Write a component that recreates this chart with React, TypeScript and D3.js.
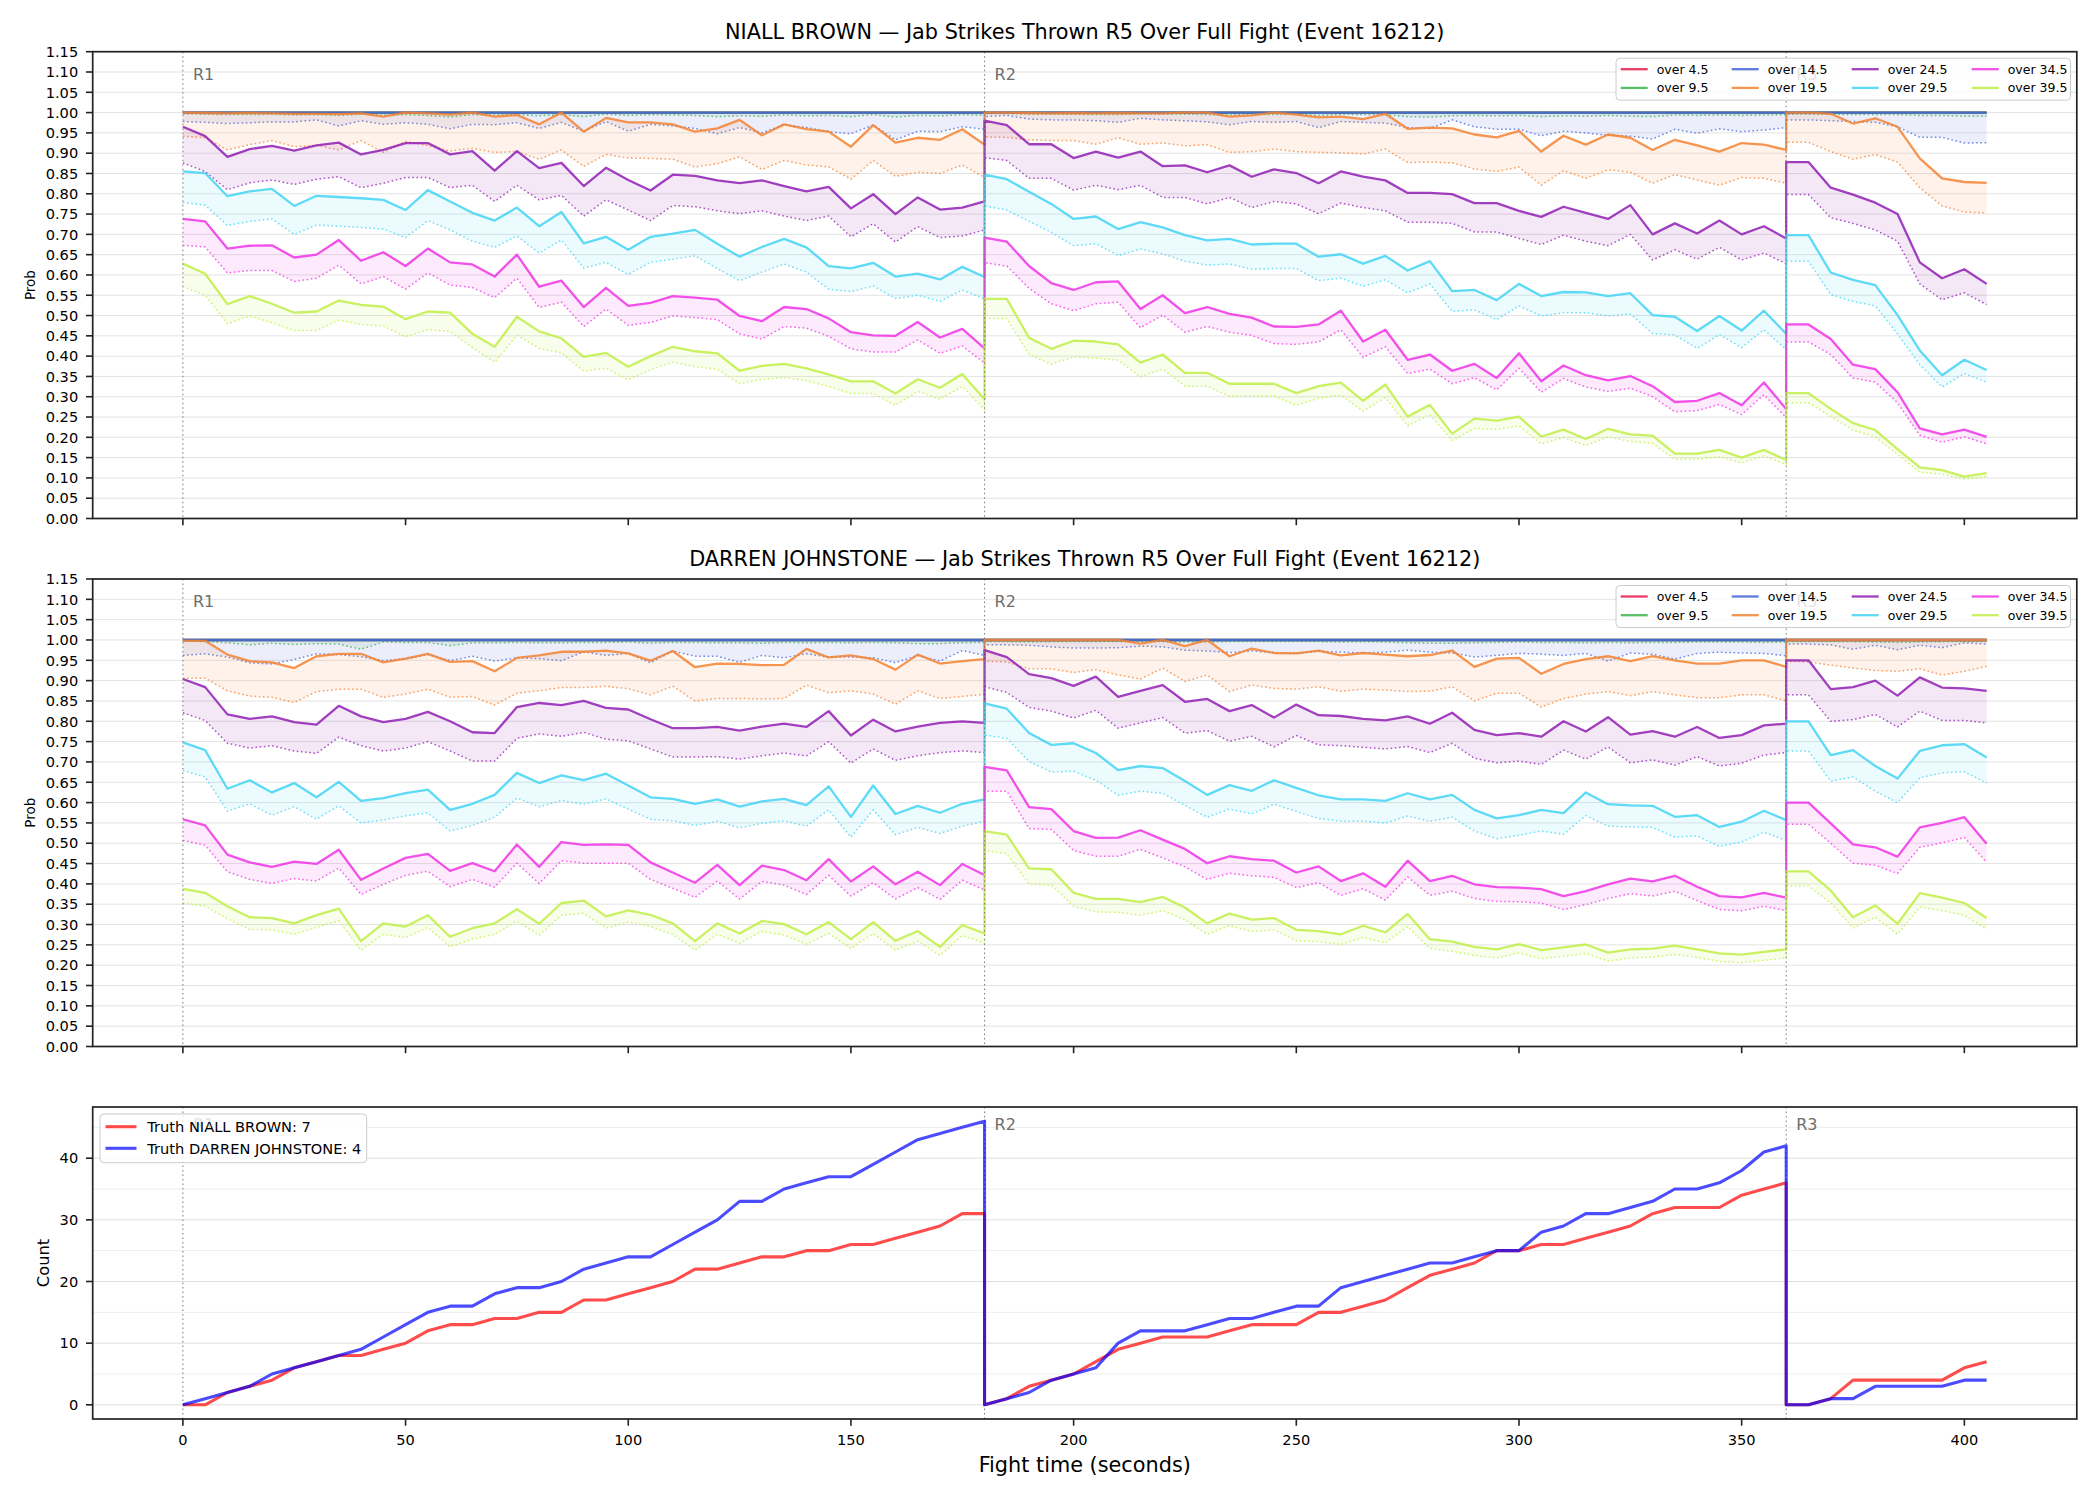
import React, { useEffect, useRef } from "react";
import * as d3 from "d3";

// ---------- data ----------

const ROUNDS = [
  { label: "R1", start: 0, end: 180 },
  { label: "R2", start: 180, end: 360 },
  { label: "R3", start: 360, end: 405 },
];
const STEP = 5;
// every round is sampled each 5 s, the boundary second appears in both rounds
const TIMES = ROUNDS.flatMap((r) => d3.range(r.start, r.end + 1, STEP));

const LINE_NAMES = ["over 4.5", "over 9.5", "over 14.5", "over 19.5", "over 24.5", "over 29.5", "over 34.5", "over 39.5"];
const LINE_COLORS = ["#e6194b", "#3cb44b", "#4363d8", "#f58231", "#911eb4", "#42d4f4", "#f032e6", "#bfef45"];

const X_TICKS = [0, 50, 100, 150, 200, 250, 300, 350, 400];
const COUNT_TICKS = [0, 10, 20, 30, 40];
const COUNT_MINOR = [5, 15, 25, 35, 45];

// lines that sit flat on 1.00 for the whole fight
const AT_ONE = [
  1, 1, 1, 1, 1, 1, 1, 1, 1, 1, 1, 1, 1, 1, 1, 1, 1, 1, 1, 1, 1, 1, 1, 1, 1, 1, 1, 1,
  1, 1, 1, 1, 1, 1, 1, 1, 1, 1, 1, 1, 1, 1, 1, 1, 1, 1, 1, 1, 1, 1, 1, 1, 1, 1, 1, 1,
  1, 1, 1, 1, 1, 1, 1, 1, 1, 1, 1, 1, 1, 1, 1, 1, 1, 1, 1, 1, 1, 1, 1, 1, 1, 1, 1, 1,
];

// NIALL BROWN — solid lines
const NB_195 = [
  1.000, 0.999, 0.998, 0.999, 0.998, 0.997, 0.997, 0.996, 0.998, 0.990, 1.000, 0.998, 0.995, 1.000, 0.990, 0.994, 0.971, 1.000, 0.953, 0.987, 0.976, 0.976, 0.971, 0.953, 0.961, 0.982, 0.944, 0.971, 0.959, 0.953, 0.916, 0.969, 0.926, 0.938, 0.933, 0.959, 0.921,
  1.000, 1.000, 0.999, 0.998, 0.999, 0.998, 0.999, 0.998, 0.998, 1.000, 1.000, 0.990, 0.993, 1.000, 0.995, 0.988, 0.990, 0.984, 0.997, 0.960, 0.963, 0.961, 0.946, 0.939, 0.955, 0.904, 0.943, 0.921, 0.946, 0.938, 0.908, 0.933, 0.919, 0.904, 0.925, 0.921, 0.908,
  1.000, 1.000, 0.997, 0.973, 0.986, 0.965, 0.887, 0.838, 0.829, 0.827,
];
const NB_245 = [
  0.965, 0.942, 0.891, 0.910, 0.918, 0.906, 0.919, 0.926, 0.897, 0.908, 0.925, 0.925, 0.897, 0.905, 0.857, 0.905, 0.863, 0.876, 0.819, 0.864, 0.834, 0.808, 0.847, 0.844, 0.833, 0.826, 0.833, 0.819, 0.806, 0.817, 0.764, 0.799, 0.750, 0.791, 0.761, 0.766, 0.781,
  0.980, 0.969, 0.922, 0.922, 0.888, 0.904, 0.889, 0.904, 0.868, 0.870, 0.853, 0.870, 0.842, 0.860, 0.851, 0.826, 0.855, 0.842, 0.833, 0.802, 0.802, 0.799, 0.777, 0.777, 0.758, 0.743, 0.768, 0.753, 0.738, 0.772, 0.700, 0.727, 0.702, 0.734, 0.700, 0.720, 0.690,
  0.878, 0.878, 0.815, 0.798, 0.778, 0.750, 0.631, 0.592, 0.614, 0.578,
];
const NB_295 = [
  0.855, 0.851, 0.794, 0.806, 0.812, 0.770, 0.795, 0.792, 0.789, 0.785, 0.760, 0.809, 0.781, 0.753, 0.734, 0.766, 0.720, 0.755, 0.678, 0.694, 0.662, 0.694, 0.702, 0.711, 0.677, 0.645, 0.669, 0.689, 0.668, 0.622, 0.616, 0.630, 0.596, 0.603, 0.589, 0.620, 0.595,
  0.847, 0.836, 0.805, 0.775, 0.738, 0.744, 0.713, 0.730, 0.717, 0.698, 0.685, 0.689, 0.675, 0.677, 0.677, 0.645, 0.651, 0.628, 0.647, 0.611, 0.634, 0.560, 0.563, 0.538, 0.578, 0.548, 0.558, 0.557, 0.548, 0.555, 0.501, 0.497, 0.462, 0.499, 0.463, 0.512, 0.455,
  0.698, 0.698, 0.606, 0.588, 0.575, 0.501, 0.414, 0.353, 0.391, 0.366,
];
const NB_345 = [
  0.738, 0.732, 0.665, 0.672, 0.673, 0.643, 0.650, 0.686, 0.635, 0.656, 0.622, 0.665, 0.631, 0.626, 0.596, 0.650, 0.571, 0.586, 0.521, 0.568, 0.524, 0.531, 0.548, 0.544, 0.539, 0.499, 0.486, 0.521, 0.516, 0.493, 0.459, 0.451, 0.450, 0.484, 0.446, 0.467, 0.419,
  0.692, 0.682, 0.622, 0.580, 0.563, 0.582, 0.584, 0.516, 0.550, 0.506, 0.521, 0.504, 0.495, 0.473, 0.472, 0.478, 0.512, 0.436, 0.465, 0.391, 0.404, 0.364, 0.381, 0.346, 0.407, 0.338, 0.377, 0.353, 0.340, 0.351, 0.326, 0.287, 0.290, 0.309, 0.279, 0.335, 0.270,
  0.478, 0.478, 0.442, 0.379, 0.368, 0.311, 0.222, 0.207, 0.219, 0.201,
];
const NB_395 = [
  0.628, 0.603, 0.528, 0.548, 0.529, 0.507, 0.510, 0.537, 0.526, 0.522, 0.491, 0.510, 0.507, 0.455, 0.423, 0.497, 0.461, 0.444, 0.398, 0.408, 0.374, 0.400, 0.423, 0.412, 0.407, 0.364, 0.376, 0.381, 0.370, 0.355, 0.338, 0.338, 0.308, 0.343, 0.322, 0.356, 0.294,
  0.541, 0.541, 0.445, 0.418, 0.438, 0.436, 0.429, 0.384, 0.404, 0.359, 0.359, 0.332, 0.332, 0.332, 0.309, 0.326, 0.335, 0.290, 0.330, 0.251, 0.280, 0.209, 0.246, 0.241, 0.251, 0.202, 0.219, 0.196, 0.221, 0.207, 0.204, 0.160, 0.160, 0.169, 0.150, 0.169, 0.144,
  0.309, 0.309, 0.270, 0.235, 0.218, 0.171, 0.126, 0.119, 0.103, 0.112,
];

// NIALL BROWN — dotted lines
const NB_95_D = [
  0.997, 0.996, 0.995, 0.995, 0.996, 0.994, 0.995, 0.993, 0.996, 0.994, 0.995, 0.993, 0.989, 0.995, 0.994, 0.995, 0.992, 0.995, 0.990, 0.996, 0.993, 0.995, 0.994, 0.993, 0.990, 0.992, 0.991, 0.994, 0.992, 0.993, 0.990, 0.995, 0.989, 0.993, 0.992, 0.995, 0.993,
  0.997, 0.998, 0.996, 0.996, 0.996, 0.995, 0.995, 0.997, 0.996, 0.996, 0.995, 0.994, 0.996, 0.995, 0.996, 0.993, 0.996, 0.995, 0.995, 0.990, 0.989, 0.992, 0.993, 0.992, 0.993, 0.990, 0.992, 0.991, 0.993, 0.991, 0.990, 0.994, 0.993, 0.994, 0.993, 0.994, 0.995,
  0.996, 0.996, 0.996, 0.995, 0.995, 0.995, 0.993, 0.993, 0.991, 0.991,
];
const NB_145_D = [
  0.978, 0.976, 0.973, 0.975, 0.977, 0.977, 0.982, 0.967, 0.980, 0.971, 0.975, 0.971, 0.960, 0.971, 0.970, 0.975, 0.961, 0.976, 0.954, 0.978, 0.954, 0.971, 0.967, 0.961, 0.948, 0.963, 0.950, 0.970, 0.963, 0.953, 0.948, 0.969, 0.933, 0.954, 0.953, 0.965, 0.959,
  0.990, 0.993, 0.984, 0.982, 0.982, 0.980, 0.976, 0.986, 0.982, 0.980, 0.977, 0.970, 0.978, 0.976, 0.978, 0.963, 0.978, 0.976, 0.974, 0.963, 0.961, 0.982, 0.965, 0.959, 0.959, 0.943, 0.954, 0.950, 0.944, 0.942, 0.935, 0.959, 0.949, 0.960, 0.953, 0.957, 0.963,
  0.982, 0.982, 0.980, 0.978, 0.976, 0.965, 0.939, 0.939, 0.925, 0.926,
];
const NB_195_D = [
  0.942, 0.938, 0.908, 0.921, 0.931, 0.916, 0.919, 0.908, 0.931, 0.902, 0.929, 0.919, 0.905, 0.912, 0.902, 0.904, 0.885, 0.908, 0.867, 0.897, 0.888, 0.887, 0.885, 0.866, 0.874, 0.891, 0.860, 0.882, 0.871, 0.866, 0.836, 0.882, 0.843, 0.853, 0.850, 0.871, 0.840,
  0.940, 0.939, 0.933, 0.931, 0.931, 0.922, 0.938, 0.922, 0.925, 0.918, 0.921, 0.902, 0.904, 0.910, 0.904, 0.902, 0.901, 0.898, 0.910, 0.877, 0.878, 0.876, 0.861, 0.855, 0.866, 0.821, 0.857, 0.838, 0.859, 0.853, 0.826, 0.847, 0.834, 0.821, 0.840, 0.838, 0.826,
  0.927, 0.927, 0.904, 0.885, 0.897, 0.878, 0.815, 0.770, 0.755, 0.753,
];
const NB_245_D = [
  0.876, 0.855, 0.810, 0.827, 0.834, 0.823, 0.836, 0.842, 0.815, 0.826, 0.840, 0.840, 0.815, 0.821, 0.781, 0.821, 0.785, 0.796, 0.745, 0.785, 0.760, 0.734, 0.771, 0.768, 0.758, 0.751, 0.758, 0.745, 0.734, 0.745, 0.694, 0.726, 0.681, 0.719, 0.692, 0.696, 0.711,
  0.889, 0.882, 0.838, 0.838, 0.809, 0.821, 0.810, 0.821, 0.791, 0.791, 0.775, 0.791, 0.766, 0.781, 0.775, 0.751, 0.777, 0.766, 0.758, 0.730, 0.730, 0.727, 0.706, 0.706, 0.690, 0.675, 0.698, 0.683, 0.672, 0.700, 0.637, 0.662, 0.639, 0.668, 0.637, 0.654, 0.628,
  0.798, 0.798, 0.741, 0.727, 0.711, 0.683, 0.578, 0.539, 0.556, 0.527,
];
const NB_295_D = [
  0.778, 0.772, 0.722, 0.732, 0.738, 0.700, 0.723, 0.720, 0.717, 0.713, 0.692, 0.734, 0.711, 0.683, 0.668, 0.696, 0.654, 0.686, 0.617, 0.631, 0.601, 0.631, 0.639, 0.647, 0.616, 0.586, 0.607, 0.627, 0.607, 0.565, 0.559, 0.573, 0.542, 0.550, 0.535, 0.563, 0.541,
  0.770, 0.760, 0.732, 0.705, 0.672, 0.677, 0.648, 0.664, 0.652, 0.634, 0.624, 0.627, 0.614, 0.616, 0.616, 0.586, 0.592, 0.572, 0.588, 0.556, 0.578, 0.510, 0.514, 0.490, 0.524, 0.499, 0.507, 0.507, 0.499, 0.504, 0.456, 0.452, 0.419, 0.453, 0.421, 0.465, 0.417,
  0.634, 0.634, 0.552, 0.535, 0.524, 0.455, 0.379, 0.324, 0.357, 0.336,
];
const NB_345_D = [
  0.673, 0.669, 0.605, 0.611, 0.611, 0.584, 0.592, 0.624, 0.578, 0.596, 0.565, 0.605, 0.575, 0.569, 0.544, 0.592, 0.520, 0.533, 0.473, 0.516, 0.476, 0.483, 0.499, 0.495, 0.490, 0.455, 0.442, 0.473, 0.469, 0.449, 0.418, 0.410, 0.410, 0.440, 0.407, 0.425, 0.383,
  0.630, 0.622, 0.567, 0.529, 0.512, 0.529, 0.533, 0.470, 0.501, 0.459, 0.473, 0.459, 0.451, 0.431, 0.429, 0.435, 0.465, 0.397, 0.423, 0.357, 0.368, 0.332, 0.347, 0.317, 0.370, 0.311, 0.345, 0.324, 0.313, 0.321, 0.300, 0.263, 0.266, 0.281, 0.256, 0.305, 0.249,
  0.435, 0.435, 0.404, 0.346, 0.336, 0.285, 0.205, 0.188, 0.201, 0.184,
];
const NB_395_D = [
  0.572, 0.550, 0.480, 0.499, 0.482, 0.463, 0.463, 0.489, 0.478, 0.474, 0.448, 0.465, 0.461, 0.421, 0.385, 0.452, 0.419, 0.408, 0.363, 0.370, 0.342, 0.366, 0.385, 0.374, 0.368, 0.332, 0.343, 0.347, 0.340, 0.325, 0.308, 0.308, 0.279, 0.313, 0.294, 0.325, 0.268,
  0.493, 0.493, 0.404, 0.380, 0.398, 0.395, 0.390, 0.349, 0.368, 0.326, 0.326, 0.301, 0.301, 0.301, 0.279, 0.296, 0.304, 0.264, 0.298, 0.228, 0.256, 0.192, 0.222, 0.219, 0.228, 0.184, 0.199, 0.180, 0.201, 0.190, 0.185, 0.146, 0.146, 0.152, 0.137, 0.154, 0.133,
  0.285, 0.285, 0.252, 0.218, 0.201, 0.158, 0.114, 0.109, 0.097, 0.103,
];

// DARREN JOHNSTONE — solid lines
const DJ_195 = [
  0.998, 0.998, 0.964, 0.948, 0.945, 0.931, 0.960, 0.966, 0.966, 0.945, 0.954, 0.966, 0.946, 0.948, 0.923, 0.956, 0.962, 0.971, 0.971, 0.974, 0.967, 0.949, 0.973, 0.933, 0.942, 0.941, 0.938, 0.939, 0.978, 0.957, 0.962, 0.953, 0.927, 0.964, 0.942, 0.948, 0.953,
  1.000, 1.000, 1.000, 1.000, 1.000, 1.000, 1.000, 0.991, 1.000, 0.985, 1.000, 0.960, 0.979, 0.968, 0.967, 0.974, 0.962, 0.968, 0.964, 0.960, 0.963, 0.974, 0.934, 0.954, 0.956, 0.917, 0.941, 0.953, 0.960, 0.948, 0.960, 0.950, 0.942, 0.942, 0.950, 0.950, 0.934,
  1.000, 1.000, 1.000, 1.000, 1.000, 1.000, 1.000, 1.000, 1.000, 1.000,
];
const DJ_245 = [
  0.904, 0.884, 0.817, 0.806, 0.812, 0.798, 0.792, 0.838, 0.812, 0.798, 0.806, 0.823, 0.800, 0.773, 0.771, 0.835, 0.845, 0.840, 0.850, 0.833, 0.829, 0.805, 0.783, 0.783, 0.786, 0.777, 0.787, 0.794, 0.786, 0.825, 0.765, 0.804, 0.775, 0.787, 0.796, 0.800, 0.796,
  0.975, 0.958, 0.916, 0.906, 0.887, 0.910, 0.860, 0.875, 0.889, 0.848, 0.855, 0.825, 0.840, 0.809, 0.841, 0.815, 0.813, 0.806, 0.802, 0.812, 0.794, 0.821, 0.779, 0.766, 0.771, 0.762, 0.800, 0.775, 0.810, 0.767, 0.776, 0.762, 0.786, 0.759, 0.766, 0.790, 0.794,
  0.950, 0.950, 0.879, 0.884, 0.900, 0.863, 0.908, 0.883, 0.881, 0.875,
];
const DJ_295 = [
  0.748, 0.729, 0.634, 0.655, 0.625, 0.648, 0.613, 0.651, 0.604, 0.611, 0.623, 0.632, 0.582, 0.597, 0.619, 0.673, 0.648, 0.667, 0.655, 0.671, 0.642, 0.613, 0.609, 0.597, 0.608, 0.590, 0.603, 0.609, 0.594, 0.640, 0.565, 0.642, 0.572, 0.592, 0.575, 0.597, 0.608,
  0.844, 0.831, 0.771, 0.742, 0.746, 0.722, 0.680, 0.690, 0.685, 0.653, 0.619, 0.643, 0.629, 0.655, 0.636, 0.618, 0.608, 0.608, 0.604, 0.623, 0.608, 0.619, 0.582, 0.561, 0.569, 0.582, 0.574, 0.625, 0.596, 0.593, 0.592, 0.565, 0.569, 0.540, 0.553, 0.580, 0.557,
  0.800, 0.800, 0.717, 0.729, 0.690, 0.659, 0.727, 0.741, 0.744, 0.711,
];
const DJ_345 = [
  0.559, 0.544, 0.472, 0.453, 0.442, 0.455, 0.449, 0.484, 0.410, 0.438, 0.464, 0.474, 0.432, 0.451, 0.431, 0.497, 0.442, 0.503, 0.496, 0.497, 0.496, 0.453, 0.428, 0.403, 0.447, 0.397, 0.445, 0.434, 0.409, 0.461, 0.406, 0.443, 0.399, 0.430, 0.397, 0.449, 0.422,
  0.688, 0.679, 0.589, 0.584, 0.530, 0.513, 0.514, 0.532, 0.509, 0.486, 0.451, 0.468, 0.461, 0.457, 0.428, 0.443, 0.407, 0.426, 0.393, 0.457, 0.407, 0.420, 0.399, 0.392, 0.391, 0.387, 0.370, 0.382, 0.399, 0.413, 0.406, 0.420, 0.393, 0.370, 0.367, 0.378, 0.366,
  0.600, 0.600, 0.549, 0.497, 0.490, 0.467, 0.539, 0.550, 0.564, 0.499,
];
const DJ_395 = [
  0.388, 0.378, 0.345, 0.318, 0.316, 0.303, 0.323, 0.339, 0.259, 0.303, 0.295, 0.323, 0.270, 0.291, 0.303, 0.338, 0.302, 0.353, 0.359, 0.320, 0.335, 0.324, 0.303, 0.259, 0.303, 0.278, 0.309, 0.301, 0.276, 0.306, 0.264, 0.306, 0.260, 0.284, 0.245, 0.299, 0.278,
  0.530, 0.521, 0.438, 0.436, 0.378, 0.363, 0.363, 0.355, 0.368, 0.342, 0.303, 0.327, 0.312, 0.316, 0.287, 0.284, 0.276, 0.297, 0.281, 0.326, 0.264, 0.258, 0.245, 0.239, 0.252, 0.237, 0.244, 0.251, 0.231, 0.239, 0.241, 0.248, 0.239, 0.229, 0.226, 0.233, 0.239,
  0.431, 0.431, 0.384, 0.318, 0.347, 0.302, 0.377, 0.366, 0.353, 0.316,
];

// DARREN JOHNSTONE — dotted lines
const DJ_95_D = [
  0.998, 0.996, 0.993, 0.988, 0.992, 0.989, 0.991, 0.990, 0.977, 0.995, 0.994, 0.994, 0.986, 0.993, 0.993, 0.994, 0.993, 0.993, 0.994, 0.994, 0.995, 0.992, 0.994, 0.994, 0.993, 0.993, 0.992, 0.994, 0.993, 0.994, 0.993, 0.994, 0.993, 0.991, 0.991, 0.993, 0.994,
  0.996, 0.996, 0.995, 0.996, 0.996, 0.996, 0.996, 0.996, 0.996, 0.995, 0.995, 0.996, 0.996, 0.996, 0.996, 0.996, 0.995, 0.996, 0.995, 0.993, 0.992, 0.992, 0.993, 0.994, 0.995, 0.994, 0.994, 0.993, 0.994, 0.993, 0.994, 0.994, 0.995, 0.995, 0.995, 0.994, 0.995,
  0.996, 0.996, 0.996, 0.996, 0.995, 0.994, 0.995, 0.996, 0.996, 0.996,
];
const DJ_145_D = [
  0.962, 0.966, 0.958, 0.944, 0.941, 0.952, 0.966, 0.964, 0.959, 0.949, 0.954, 0.964, 0.949, 0.960, 0.948, 0.956, 0.954, 0.949, 0.971, 0.962, 0.967, 0.944, 0.973, 0.960, 0.960, 0.945, 0.962, 0.956, 0.966, 0.958, 0.958, 0.956, 0.944, 0.962, 0.948, 0.974, 0.962,
  0.988, 0.988, 0.987, 0.983, 0.980, 0.980, 0.981, 0.985, 0.983, 0.975, 0.973, 0.969, 0.973, 0.969, 0.967, 0.972, 0.970, 0.968, 0.970, 0.975, 0.970, 0.968, 0.958, 0.962, 0.967, 0.965, 0.962, 0.967, 0.948, 0.968, 0.965, 0.953, 0.967, 0.970, 0.968, 0.967, 0.961,
  0.990, 0.990, 0.988, 0.977, 0.987, 0.976, 0.987, 0.981, 0.993, 0.990,
];
const DJ_195_D = [
  0.906, 0.906, 0.875, 0.862, 0.859, 0.846, 0.873, 0.879, 0.879, 0.859, 0.867, 0.879, 0.859, 0.861, 0.840, 0.869, 0.875, 0.883, 0.883, 0.886, 0.880, 0.865, 0.886, 0.850, 0.856, 0.856, 0.855, 0.856, 0.889, 0.870, 0.875, 0.867, 0.842, 0.875, 0.856, 0.861, 0.866,
  0.948, 0.946, 0.929, 0.929, 0.920, 0.927, 0.914, 0.904, 0.931, 0.898, 0.914, 0.873, 0.889, 0.881, 0.879, 0.885, 0.874, 0.879, 0.877, 0.873, 0.874, 0.885, 0.850, 0.869, 0.869, 0.835, 0.856, 0.867, 0.873, 0.863, 0.873, 0.865, 0.858, 0.858, 0.865, 0.865, 0.850,
  0.948, 0.946, 0.938, 0.931, 0.925, 0.923, 0.929, 0.914, 0.923, 0.935,
];
const DJ_245_D = [
  0.821, 0.802, 0.746, 0.734, 0.740, 0.727, 0.721, 0.761, 0.740, 0.727, 0.734, 0.750, 0.727, 0.702, 0.702, 0.758, 0.769, 0.763, 0.773, 0.756, 0.752, 0.732, 0.712, 0.712, 0.713, 0.707, 0.715, 0.722, 0.715, 0.750, 0.697, 0.732, 0.704, 0.715, 0.723, 0.727, 0.723,
  0.885, 0.871, 0.834, 0.825, 0.808, 0.827, 0.783, 0.796, 0.809, 0.771, 0.777, 0.751, 0.763, 0.737, 0.765, 0.742, 0.740, 0.736, 0.732, 0.738, 0.723, 0.746, 0.709, 0.698, 0.702, 0.694, 0.729, 0.707, 0.737, 0.698, 0.705, 0.692, 0.713, 0.690, 0.697, 0.717, 0.723,
  0.865, 0.865, 0.800, 0.804, 0.817, 0.786, 0.825, 0.802, 0.802, 0.796,
];
const DJ_295_D = [
  0.679, 0.663, 0.579, 0.597, 0.569, 0.590, 0.559, 0.592, 0.550, 0.557, 0.567, 0.575, 0.530, 0.544, 0.564, 0.611, 0.590, 0.605, 0.596, 0.609, 0.584, 0.559, 0.555, 0.544, 0.554, 0.538, 0.549, 0.555, 0.542, 0.582, 0.515, 0.582, 0.521, 0.539, 0.524, 0.542, 0.554,
  0.766, 0.758, 0.701, 0.675, 0.677, 0.655, 0.618, 0.628, 0.623, 0.593, 0.564, 0.584, 0.572, 0.596, 0.578, 0.561, 0.554, 0.554, 0.550, 0.567, 0.554, 0.564, 0.530, 0.511, 0.520, 0.530, 0.522, 0.568, 0.542, 0.540, 0.539, 0.515, 0.518, 0.492, 0.503, 0.527, 0.507,
  0.727, 0.727, 0.653, 0.663, 0.628, 0.600, 0.661, 0.673, 0.676, 0.648,
];
const DJ_345_D = [
  0.507, 0.495, 0.430, 0.411, 0.401, 0.413, 0.407, 0.439, 0.374, 0.399, 0.421, 0.431, 0.393, 0.411, 0.392, 0.451, 0.401, 0.457, 0.451, 0.451, 0.451, 0.411, 0.389, 0.367, 0.407, 0.363, 0.406, 0.397, 0.374, 0.421, 0.370, 0.403, 0.363, 0.391, 0.362, 0.409, 0.385,
  0.628, 0.628, 0.536, 0.534, 0.482, 0.468, 0.468, 0.485, 0.464, 0.442, 0.411, 0.426, 0.420, 0.416, 0.391, 0.403, 0.372, 0.388, 0.360, 0.417, 0.372, 0.382, 0.364, 0.357, 0.356, 0.353, 0.337, 0.349, 0.364, 0.376, 0.370, 0.382, 0.359, 0.337, 0.334, 0.345, 0.334,
  0.547, 0.547, 0.500, 0.451, 0.446, 0.426, 0.490, 0.501, 0.514, 0.453,
];
const DJ_395_D = [
  0.353, 0.345, 0.314, 0.288, 0.287, 0.276, 0.293, 0.309, 0.237, 0.276, 0.268, 0.293, 0.245, 0.264, 0.276, 0.308, 0.274, 0.323, 0.328, 0.291, 0.306, 0.295, 0.276, 0.237, 0.276, 0.254, 0.283, 0.274, 0.252, 0.278, 0.241, 0.278, 0.237, 0.259, 0.224, 0.273, 0.254,
  0.482, 0.474, 0.399, 0.397, 0.345, 0.331, 0.330, 0.323, 0.334, 0.312, 0.276, 0.297, 0.283, 0.287, 0.260, 0.258, 0.251, 0.268, 0.255, 0.295, 0.241, 0.234, 0.224, 0.218, 0.230, 0.216, 0.222, 0.229, 0.210, 0.218, 0.220, 0.226, 0.219, 0.209, 0.206, 0.212, 0.218,
  0.395, 0.395, 0.353, 0.291, 0.318, 0.276, 0.343, 0.334, 0.323, 0.289,
];

// truth counts (cumulative within each round)
const NB_TRUTH = [
  0, 0, 2, 3, 4, 6, 7, 8, 8, 9, 10, 12, 13, 13, 14, 14, 15, 15, 17, 17, 18, 19, 20, 22, 22, 23, 24, 24, 25, 25, 26, 26, 27, 28, 29, 31, 31,
  0, 1, 3, 4, 5, 7, 9, 10, 11, 11, 11, 12, 13, 13, 13, 15, 15, 16, 17, 19, 21, 22, 23, 25, 25, 26, 26, 27, 28, 29, 31, 32, 32, 32, 34, 35, 36,
  0, 0, 1, 4, 4, 4, 4, 4, 6, 7,
];
const DJ_TRUTH = [
  0, 1, 2, 3, 5, 6, 7, 8, 9, 11, 13, 15, 16, 16, 18, 19, 19, 20, 22, 23, 24, 24, 26, 28, 30, 33, 33, 35, 36, 37, 37, 39, 41, 43, 44, 45, 46,
  0, 1, 2, 4, 5, 6, 10, 12, 12, 12, 13, 14, 14, 15, 16, 16, 19, 20, 21, 22, 23, 23, 24, 25, 25, 28, 29, 31, 31, 32, 33, 35, 35, 36, 38, 41, 42,
  0, 0, 1, 1, 3, 3, 3, 3, 4, 4,
];

const NB_SOLID = [AT_ONE, AT_ONE, AT_ONE, NB_195, NB_245, NB_295, NB_345, NB_395];
const NB_DOTTED = [AT_ONE, NB_95_D, NB_145_D, NB_195_D, NB_245_D, NB_295_D, NB_345_D, NB_395_D];
const DJ_SOLID = [AT_ONE, AT_ONE, AT_ONE, DJ_195, DJ_245, DJ_295, DJ_345, DJ_395];
const DJ_DOTTED = [AT_ONE, DJ_95_D, DJ_145_D, DJ_195_D, DJ_245_D, DJ_295_D, DJ_345_D, DJ_395_D];

// ---------- layout ----------
const W = 2100;
const H = 1500;
const LEFT = 92.7;
const RIGHT = 2076.8;
const P1 = { top: 51.7, bottom: 518.5 };
const P2 = { top: 579, bottom: 1046.5 };
const P3 = { top: 1107, bottom: 1419 };
const FONT = "DejaVu Sans";
const INK = "#222";

type Sel = d3.Selection<any, unknown, null, undefined>;

function frame(svg: Sel, box: { top: number; bottom: number }, x: d3.ScaleLinear<number, number>, labels: boolean) {
  const g = svg.append("g");
  g.append("rect")
    .attr("x", LEFT).attr("y", box.top)
    .attr("width", RIGHT - LEFT).attr("height", box.bottom - box.top)
    .attr("fill", "none").attr("stroke", INK).attr("stroke-width", 1.7);
  X_TICKS.forEach((t) => {
    g.append("line")
      .attr("x1", x(t)).attr("x2", x(t))
      .attr("y1", box.bottom).attr("y2", box.bottom + 6.7)
      .attr("stroke", INK).attr("stroke-width", 1.6);
    if (labels) {
      g.append("text")
        .attr("x", x(t)).attr("y", box.bottom + 26)
        .attr("text-anchor", "middle")
        .attr("font-family", FONT).attr("font-size", 14.6).attr("fill", "#000")
        .text(t);
    }
  });
}

function roundMarks(plot: Sel, x: d3.ScaleLinear<number, number>, box: { top: number; bottom: number }, labelY: number) {
  ROUNDS.forEach((r) => {
    plot.append("line")
      .attr("x1", x(r.start)).attr("x2", x(r.start))
      .attr("y1", box.top).attr("y2", box.bottom)
      .attr("stroke", "#808080").attr("stroke-width", 1.1)
      .attr("stroke-dasharray", "1.5,3");
    plot.append("text")
      .attr("x", x(r.start) + 10).attr("y", labelY)
      .attr("font-family", FONT).attr("font-size", 16).attr("fill", "#6e6e6e")
      .text(r.label);
  });
}

function drawProb(
  svg: Sel,
  x: d3.ScaleLinear<number, number>,
  box: { top: number; bottom: number },
  title: string,
  solids: number[][],
  dotteds: number[][],
  id: string
) {
  const y = d3.scaleLinear().domain([0, 1.15]).range([box.bottom, box.top]);
  const yTicks = d3.range(24).map((i) => i / 20);
  const fmt = d3.format(".2f");

  const grid = svg.append("g");
  yTicks.forEach((v) => {
    grid.append("line")
      .attr("x1", LEFT).attr("x2", RIGHT).attr("y1", y(v)).attr("y2", y(v))
      .attr("stroke", "#e3e3e3").attr("stroke-width", 1);
  });

  svg.append("clipPath").attr("id", id).append("rect")
    .attr("x", LEFT).attr("y", box.top)
    .attr("width", RIGHT - LEFT).attr("height", box.bottom - box.top);
  const plot = svg.append("g").attr("clip-path", `url(#${id})`);

  const idx = d3.range(TIMES.length);
  LINE_NAMES.forEach((_, k) => {
    const s = solids[k];
    const d = dotteds[k];
    const area = d3.area<number>()
      .x((i) => x(TIMES[i]))
      .y0((i) => y(d[i]))
      .y1((i) => y(s[i]));
    const line = (vals: number[]) =>
      d3.line<number>().x((i) => x(TIMES[i])).y((i) => y(vals[i]))(idx);
    plot.append("path").attr("d", area(idx))
      .attr("fill", LINE_COLORS[k]).attr("fill-opacity", 0.1);
    plot.append("path").attr("d", line(s))
      .attr("fill", "none").attr("stroke", LINE_COLORS[k])
      .attr("stroke-width", 2.3).attr("stroke-opacity", 0.85)
      .attr("stroke-linejoin", "round");
    plot.append("path").attr("d", line(d))
      .attr("fill", "none").attr("stroke", LINE_COLORS[k])
      .attr("stroke-width", 1.5).attr("stroke-opacity", 0.75)
      .attr("stroke-dasharray", "1.6,2.6");
  });

  roundMarks(plot, x, box, y(1.08));

  // legend (4 columns x 2 rows, column-major)
  const lx = 1616;
  const ly = box.top + 6.5;
  const leg = svg.append("g");
  leg.append("rect")
    .attr("x", lx).attr("y", ly).attr("width", 454.5).attr("height", 42)
    .attr("rx", 4).attr("fill", "#fff").attr("fill-opacity", 0.8)
    .attr("stroke", "#cccccc").attr("stroke-width", 1);
  const colOff = [0, 111, 231, 351];
  LINE_NAMES.forEach((name, k) => {
    const col = Math.floor(k / 2);
    const row = k % 2;
    const hx = lx + 4.7 + colOff[col];
    const cy = ly + 11 + row * 18.7;
    leg.append("line")
      .attr("x1", hx).attr("x2", hx + 27).attr("y1", cy).attr("y2", cy)
      .attr("stroke", LINE_COLORS[k]).attr("stroke-width", 2.3).attr("stroke-opacity", 0.85);
    leg.append("text")
      .attr("x", hx + 36).attr("y", cy).attr("dy", "0.36em")
      .attr("font-family", FONT).attr("font-size", 12.5).attr("fill", "#000")
      .text(name);
  });

  frame(svg, box, x, false);
  const ax = svg.append("g");
  yTicks.forEach((v) => {
    ax.append("line")
      .attr("x1", LEFT - 6.7).attr("x2", LEFT).attr("y1", y(v)).attr("y2", y(v))
      .attr("stroke", INK).attr("stroke-width", 1.6);
    ax.append("text")
      .attr("x", LEFT - 14.5).attr("y", y(v)).attr("dy", "0.36em")
      .attr("text-anchor", "end")
      .attr("font-family", FONT).attr("font-size", 14.6).attr("fill", "#000")
      .text(fmt(v));
  });
  ax.append("text")
    .attr("transform", `translate(34.5,${(box.top + box.bottom) / 2}) rotate(-90)`)
    .attr("text-anchor", "middle")
    .attr("font-family", FONT).attr("font-size", 13.5).attr("fill", "#000")
    .text("Prob");
  svg.append("text")
    .attr("x", (LEFT + RIGHT) / 2).attr("y", box.top - 13)
    .attr("text-anchor", "middle")
    .attr("font-family", FONT).attr("font-size", 20.8).attr("fill", "#000")
    .text(title);
}

function drawTruth(svg: Sel, x: d3.ScaleLinear<number, number>, box: { top: number; bottom: number }) {
  const y = d3.scaleLinear().domain([-2.3, 48.3]).range([box.bottom, box.top]);
  const grid = svg.append("g");
  COUNT_MINOR.forEach((v) => {
    grid.append("line")
      .attr("x1", LEFT).attr("x2", RIGHT).attr("y1", y(v)).attr("y2", y(v))
      .attr("stroke", "#eeeeee").attr("stroke-width", 1);
  });
  COUNT_TICKS.forEach((v) => {
    grid.append("line")
      .attr("x1", LEFT).attr("x2", RIGHT).attr("y1", y(v)).attr("y2", y(v))
      .attr("stroke", "#dedede").attr("stroke-width", 1);
  });

  svg.append("clipPath").attr("id", "p3").append("rect")
    .attr("x", LEFT).attr("y", box.top)
    .attr("width", RIGHT - LEFT).attr("height", box.bottom - box.top);
  const plot = svg.append("g").attr("clip-path", "url(#p3)");

  roundMarks(plot, x, box, y(44.6));

  const idx = d3.range(TIMES.length);
  const truth = [
    { vals: NB_TRUTH, color: "#ff0000", label: "Truth NIALL BROWN: 7" },
    { vals: DJ_TRUTH, color: "#0000ff", label: "Truth DARREN JOHNSTONE: 4" },
  ];
  truth.forEach((s) => {
    const line = d3.line<number>().x((i) => x(TIMES[i])).y((i) => y(s.vals[i]));
    plot.append("path").attr("d", line(idx))
      .attr("fill", "none").attr("stroke", s.color)
      .attr("stroke-width", 3.1).attr("stroke-opacity", 0.7)
      .attr("stroke-linejoin", "round");
  });

  const leg = svg.append("g");
  leg.append("rect")
    .attr("x", 100).attr("y", 1114).attr("width", 266.7).attr("height", 48.7)
    .attr("rx", 4).attr("fill", "#fff").attr("fill-opacity", 0.8)
    .attr("stroke", "#cccccc").attr("stroke-width", 1);
  truth.forEach((s, k) => {
    const cy = 1126.7 + k * 21.6;
    leg.append("line")
      .attr("x1", 105.5).attr("x2", 136.5).attr("y1", cy).attr("y2", cy)
      .attr("stroke", s.color).attr("stroke-width", 3.1).attr("stroke-opacity", 0.7);
    leg.append("text")
      .attr("x", 147.3).attr("y", cy).attr("dy", "0.36em")
      .attr("font-family", FONT).attr("font-size", 14.6).attr("fill", "#000")
      .text(s.label);
  });

  frame(svg, box, x, true);
  const ax = svg.append("g");
  COUNT_TICKS.forEach((v) => {
    ax.append("line")
      .attr("x1", LEFT - 6.7).attr("x2", LEFT).attr("y1", y(v)).attr("y2", y(v))
      .attr("stroke", INK).attr("stroke-width", 1.6);
    ax.append("text")
      .attr("x", LEFT - 14.5).attr("y", y(v)).attr("dy", "0.36em")
      .attr("text-anchor", "end")
      .attr("font-family", FONT).attr("font-size", 14.6).attr("fill", "#000")
      .text(v);
  });
  ax.append("text")
    .attr("transform", `translate(48.5,${(box.top + box.bottom) / 2}) rotate(-90)`)
    .attr("text-anchor", "middle")
    .attr("font-family", FONT).attr("font-size", 16.3).attr("fill", "#000")
    .text("Count");
  ax.append("text")
    .attr("x", (LEFT + RIGHT) / 2).attr("y", 1471.5)
    .attr("text-anchor", "middle")
    .attr("font-family", FONT).attr("font-size", 20.8).attr("fill", "#000")
    .text("Fight time (seconds)");
}

export default function App() {
  const ref = useRef<SVGSVGElement>(null);

  useEffect(() => {
    const svg = d3.select(ref.current) as unknown as Sel;
    svg.selectAll("*").remove();
    svg.append("rect").attr("width", W).attr("height", H).attr("fill", "#fff");

    const x = d3.scaleLinear().domain([-20.25, 425.25]).range([LEFT, RIGHT]);

    drawProb(svg, x, P1, "NIALL BROWN — Jab Strikes Thrown R5 Over Full Fight (Event 16212)", NB_SOLID, NB_DOTTED, "p1");
    drawProb(svg, x, P2, "DARREN JOHNSTONE — Jab Strikes Thrown R5 Over Full Fight (Event 16212)", DJ_SOLID, DJ_DOTTED, "p2");
    drawTruth(svg, x, P3);
  }, []);

  return (
    <svg
      ref={ref}
      width={W}
      height={H}
      style={{ position: "absolute", left: 0, top: 0, display: "block" }}
    />
  );
}
